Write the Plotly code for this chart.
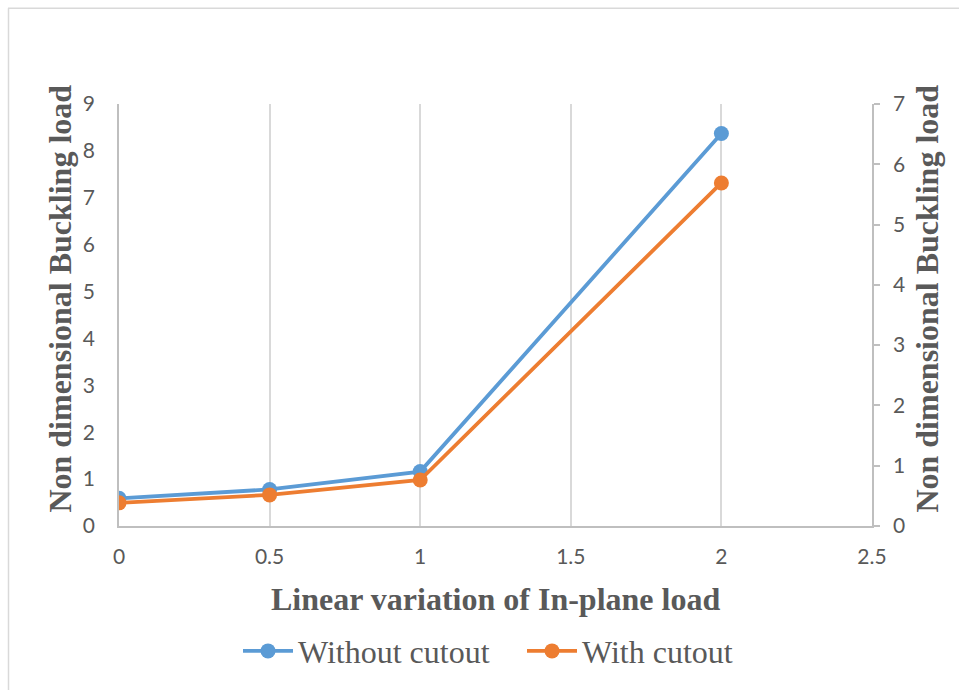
import plotly.graph_objects as go

# Load variation (x) and non-dimensional buckling loads for each plate case
load_variation = [0, 0.5, 1, 2]
without_cutout = [0.59, 0.78, 1.16, 8.37]
with_cutout = [0.384, 0.516, 0.763, 5.69]

x_ticks = [0, 0.5, 1, 1.5, 2, 2.5]
x_tick_text = ["0", "0.5", "1", "1.5", "2", "2.5"]
left_ticks = list(range(0, 10))
right_ticks = list(range(0, 8))

BLUE = "#5B9BD5"
ORANGE = "#ED7D31"
TEXT = "#595959"
AXIS = "#BFBFBF"
GRID = "#D9D9D9"

W, H = 959, 690
L, R, T, B = 119, 872, 104, 529


def px(x):
    return (x - L) / (R - L)


def py(y):
    return (B - y) / (B - T)


fig = go.Figure()
fig.add_trace(go.Scatter(
    x=load_variation, y=without_cutout, name="Without cutout",
    mode="lines+markers", yaxis="y",
    line=dict(color=BLUE, width=3.8), marker=dict(size=15, color=BLUE),
))
fig.add_trace(go.Scatter(
    x=load_variation, y=with_cutout, name="With cutout",
    mode="lines+markers", yaxis="y2",
    line=dict(color=ORANGE, width=3.8), marker=dict(size=15, color=ORANGE),
))

tick_font = dict(family="Lato, Open Sans, sans-serif", size=21, color=TEXT)
serif = "Liberation Serif, Times New Roman, serif"

fig.update_layout(
    width=W, height=H,
    margin=dict(l=L, r=W - R, t=T, b=H - B),
    paper_bgcolor="white", plot_bgcolor="white",
    xaxis=dict(
        range=[0, 2.5], tickvals=x_ticks, ticktext=x_tick_text,
        showgrid=True, gridcolor=GRID, gridwidth=1.5,
        showline=True, linecolor=AXIS, linewidth=1.5,
        zeroline=False, ticks="", tickfont=tick_font, ticklabelstandoff=11,
    ),
    yaxis=dict(
        range=[0, 9], tickvals=left_ticks,
        showgrid=False, showline=True, linecolor=AXIS, linewidth=1.5,
        zeroline=False, ticks="", tickfont=tick_font, ticklabelstandoff=18,
    ),
    yaxis2=dict(
        range=[0, 7], tickvals=right_ticks, overlaying="y", side="right",
        showgrid=False, showline=True, linecolor=AXIS, linewidth=1.5,
        zeroline=False, ticks="outside", ticklen=6, tickcolor=AXIS, tickwidth=1.5,
        tickfont=tick_font, ticklabelstandoff=9,
    ),
    legend=dict(
        orientation="h", x=px(522), y=py(655), xanchor="center", yanchor="middle",
        font=dict(family=serif, size=32, color=TEXT),
        itemwidth=50, entrywidth=219, entrywidthmode="pixels",
        traceorder="normal", bgcolor="rgba(0,0,0,0)",
    ),
    showlegend=True,
)

# Axis titles
fig.add_annotation(
    text="<b>Linear variation of In-plane load</b>", xref="paper", yref="paper",
    x=px(495), y=py(603), xanchor="center", yanchor="middle", showarrow=False,
    font=dict(family=serif, size=32, color=TEXT),
)
for xc in (60, 927):
    fig.add_annotation(
        text="<b>Non dimensional Buckling load</b>", xref="paper", yref="paper",
        x=px(xc), y=py(300), xanchor="center", yanchor="middle", textangle=-90,
        showarrow=False, font=dict(family=serif, size=32, color=TEXT),
    )

# Chart-area frame (top and left edges)
fig.add_shape(type="line", xref="paper", yref="paper",
              x0=px(8), x1=px(W + 5), y0=py(7.5), y1=py(7.5),
              line=dict(color=GRID, width=1.5))
fig.add_shape(type="line", xref="paper", yref="paper",
              x0=px(8.5), x1=px(8.5), y0=py(7.5), y1=py(H + 5),
              line=dict(color=GRID, width=1.5))

fig.write_html("out.html")
